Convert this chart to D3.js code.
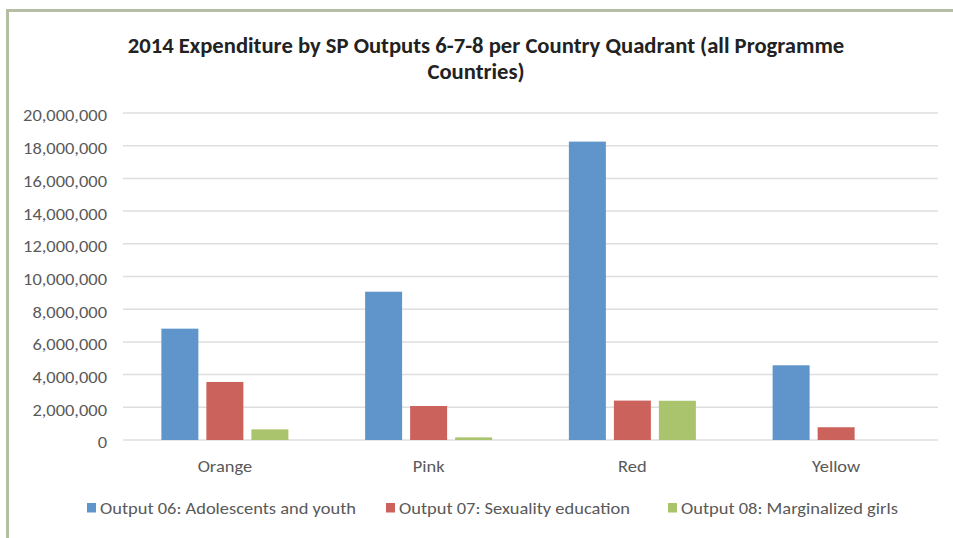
<!DOCTYPE html>
<html><head><meta charset="utf-8">
<script src="https://cdn.jsdelivr.net/npm/d3@7"></script>
<style>body{margin:0;background:#fff;} svg{display:block;}</style>
</head><body>
<svg id="c" width="953" height="538"></svg>
<script>
const categories = ["Orange", "Pink", "Red", "Yellow"];
const seriesNames = ["Output 06: Adolescents and youth", "Output 07: Sexuality education", "Output 08: Marginalized girls"];
const output06 = [6810000, 9070000, 18250000, 4570000];
const output07 = [3550000, 2080000, 2410000, 780000];
const output08 = [650000, 160000, 2400000, 0];
const yTicks = [0, 2000000, 4000000, 6000000, 8000000, 10000000, 12000000, 14000000, 16000000, 18000000, 20000000];
const colors = ["#5f95cb", "#cc625c", "#a9c46c"];
const titleLines = ["2014 Expenditure by SP Outputs 6-7-8 per Country Quadrant (all Programme", "Countries)"];

const series = [output06, output07, output08];
const svg = d3.select("#c");
const font = "Carlito, 'Open Sans', 'Liberation Sans', sans-serif";
const labelSize = 15.5;

// frame
svg.append("rect").attr("x",0).attr("y",0).attr("width",953).attr("height",538).attr("fill","#fff");
svg.append("line").attr("x1",6).attr("x2",953).attr("y1",10.5).attr("y2",10.5).attr("stroke","#b4bea2").attr("stroke-width",3);
svg.append("line").attr("x1",7.5).attr("x2",7.5).attr("y1",9).attr("y2",538).attr("stroke","#b4bea2").attr("stroke-width",3);

const pLeft = 123, pRight = 938, pTop = 113, pBottom = 440;
const x = d3.scaleBand().domain(categories).range([pLeft, pRight]).paddingInner(0).paddingOuter(0);
const y = d3.scaleLinear().domain([0, 20000000]).range([pBottom, pTop]);
const groupW = 127;
const x1 = d3.scaleBand().domain(d3.range(series.length)).range([0, groupW]).paddingInner(0.178);

// gridlines
svg.append("g").selectAll("line").data(yTicks).join("line")
  .attr("x1", pLeft).attr("x2", pRight)
  .attr("y1", d => y(d)).attr("y2", d => y(d))
  .attr("stroke", "#dedede").attr("stroke-width", 1.5);

// legend first, to determine stretch factor
const legX = [87, 386, 668];
const leg = svg.append("g");
const legTexts = [];
seriesNames.forEach((n, i) => {
  leg.append("rect").attr("x", legX[i]).attr("y", 503).attr("width", 9).attr("height", 9.5).attr("fill", colors[i]);
  legTexts.push(leg.append("text").attr("x", legX[i] + 13).attr("y", 514)
    .attr("font-family", font).attr("font-size", labelSize).attr("fill","#595959").text(n));
});
const stretch = 256 / legTexts[0].node().getComputedTextLength();
function stretchText(sel) {
  sel.each(function() {
    const w = this.getComputedTextLength();
    d3.select(this).attr("textLength", w * stretch).attr("lengthAdjust", "spacingAndGlyphs");
  });
}
legTexts.forEach(stretchText);

// y axis labels
const yAxis = d3.axisLeft(y).tickValues(yTicks).tickSize(0).tickPadding(0).tickFormat(d3.format(","));
const ya = svg.append("g").attr("transform", `translate(${pLeft-16},2.5)`).call(yAxis);
ya.select(".domain").remove();
ya.selectAll("text").attr("font-family", font).attr("font-size", labelSize).attr("fill", "#595959").attr("dy","0.35em");
stretchText(ya.selectAll("text"));

// bars
categories.forEach((c, ci) => {
  const g = svg.append("g").attr("transform", `translate(${x(c) + x.bandwidth()/2 - groupW/2},0)`);
  g.selectAll("rect").data(series.map((s, si) => ({si, v: s[ci]}))).join("rect")
    .attr("x", d => x1(d.si))
    .attr("width", x1.bandwidth())
    .attr("y", d => y(d.v))
    .attr("height", d => y(0) - y(d.v))
    .attr("fill", d => colors[d.si]);
});

// x axis labels
const xAxis = d3.axisBottom(x).tickSize(0).tickPadding(0);
const xa = svg.append("g").attr("transform", `translate(0,472)`).call(xAxis);
xa.select(".domain").remove();
xa.selectAll("text").attr("font-family", font).attr("font-size", labelSize).attr("fill", "#595959").attr("dy", 0);
stretchText(xa.selectAll("text"));

// title
const t = svg.append("g");
const tl1 = t.append("text").attr("x", 486).attr("y", 53).attr("text-anchor","middle")
  .attr("font-family", font).attr("font-weight","bold").attr("font-size",17).attr("fill","#222").text(titleLines[0]);
const w = tl1.node().getComputedTextLength();
const fs = 17 * 717 / w;
tl1.attr("font-size", fs);
t.append("text").attr("x", 476).attr("y", 79).attr("text-anchor","middle")
  .attr("font-family", font).attr("font-weight","bold").attr("font-size",fs).attr("fill","#222").text(titleLines[1]);
</script>
</body></html>
